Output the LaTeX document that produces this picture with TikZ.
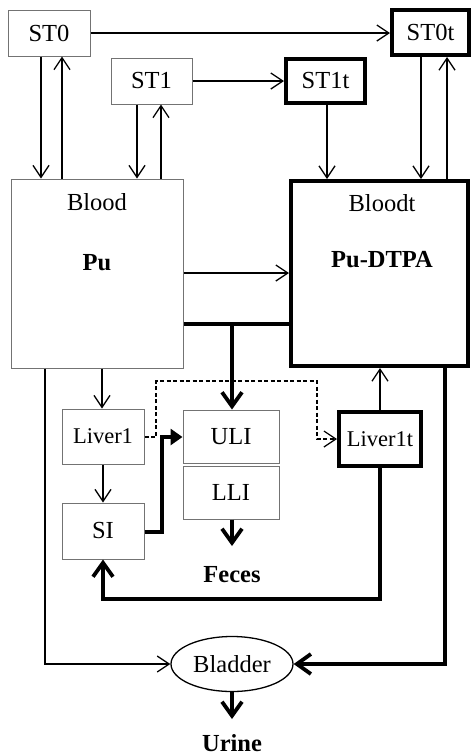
\documentclass[tikz,border=0pt]{standalone}
\usepackage{fontspec}
\setmainfont{Liberation Serif}
\usetikzlibrary{arrows.meta,shapes.geometric}
\begin{document}
\begin{tikzpicture}[x=1pt,y=-1pt,
  lbl/.style={font=\fontsize{24.5}{28}\selectfont},
  slbl/.style={font=\fontsize{22.5}{26}\selectfont},
  blbl/.style={font=\fontsize{24.5}{28}\selectfont\bfseries},
  box/.style={draw=black!55, line width=1pt, inner sep=0pt, lbl},
  tbox/.style={draw=black, line width=4pt, inner sep=0pt, lbl},
  thinarr/.style={line width=1.3pt, -{Straight Barb[length=12pt,width=16pt,line width=1.3pt]}},
  thkline/.style={line width=3.8pt, line join=miter},
  thkarr/.style={line width=3.8pt, line join=miter, -{Straight Barb[length=14pt,width=20pt,line width=3.8pt]}},
  solarr/.style={line width=3.8pt, line join=miter, -{Triangle[length=12pt,width=16pt]}},
  dasharr/.style={line width=1.2pt, dash pattern=on 4pt off 2.5pt, -{Straight Barb[length=12pt,width=16pt,line width=1.2pt]}}
]
\useasboundingbox (0,0) rectangle (472,756);

% boxes
\node[box,  minimum width=82pt, minimum height=46pt] (ST0)  at (49,33) {ST0};
\node[box,  minimum width=81pt, minimum height=46pt] (ST1)  at (151.5,81) {ST1};
\node[tbox, minimum width=79pt, minimum height=44pt] (ST1t) at (325.5,81) {ST1t};
\node[tbox, minimum width=77pt, minimum height=45pt] (ST0t) at (430.5,32.5) {ST0t};
\node[box,  minimum width=172pt, minimum height=189pt] (Blood)  at (97,273.5) {};
\node[tbox, minimum width=177pt, minimum height=185pt] (Bloodt) at (379.5,273.5) {};
\node[lbl]  (bloodlbl)  at (97,202) {Blood};
\node[blbl] (pulbl)     at (97,263) {Pu};
\node[lbl]  (bloodtlbl) at (382,203) {Bloodt};
\node[blbl] (pudtpalbl) at (382,260) {Pu-DTPA};
\node[box,  minimum width=82pt, minimum height=55pt, slbl] (Liver1) at (103,436.5) {Liver1};
\node[box,  minimum width=82pt, minimum height=56pt] (SI) at (103,531) {SI};
\node[box,  minimum width=96pt, minimum height=53pt] (ULI) at (231,436.5) {ULI};
\node[box,  minimum width=96pt, minimum height=53pt] (LLI) at (231,492.5) {LLI};
\node[tbox, minimum width=82pt, minimum height=54pt, slbl] (Liver1t) at (380,439) {Liver1t};
\node[draw, ellipse, line width=1.3pt, minimum width=122pt, minimum height=55pt, inner sep=0pt, lbl] (Bladder) at (232,664) {Bladder};
\node[blbl] (Feces) at (232,575) {Feces};
\node[blbl] (Urine) at (232,743) {Urine};

% top arrows
\draw[thinarr] (ST0.east) -- (ST0t.west |- ST0.east);
\draw[thinarr] (ST1.east) -- (ST1t.west |- ST1.east);
\draw[thinarr] (ST0.south -| 41,0) -- (Blood.north -| 41,0);
\draw[thinarr] (Blood.north -| 62,0) -- (ST0.south -| 62,0);
\draw[thinarr] (ST1.south -| 137,0) -- (Blood.north -| 137,0);
\draw[thinarr] (Blood.north -| 161,0) -- (ST1.south -| 161,0);
\draw[thinarr] (ST1t.south -| 327,0) -- (Bloodt.north -| 327,0);
\draw[thinarr] (ST0t.south -| 421,0) -- (Bloodt.north -| 421,0);
\draw[thinarr] (Bloodt.north -| 447,0) -- (ST0t.south -| 447,0);

% blood to bloodt
\draw[thinarr] (Blood.east |- 0,273) -- (Bloodt.west |- 0,273);
\draw[thkline] (Blood.east |- 0,324) -- (Bloodt.west |- 0,324);
\coordinate (br) at (232,324);
\draw[thkarr] (br) -- (ULI.north -| br);

% blood down
\draw[thinarr] (Blood.south -| 102,0) -- (Liver1.north -| 102,0);
\draw[thinarr] (Blood.south -| 45,0) -- (45,664) -- (Bladder.west);
\draw[thinarr] (Liver1.south) -- (SI.north);

% SI to ULI
\draw[solarr] (SI.east |- 0,532) -- (162,532) -- (162,437) -- (ULI.west |- 0,437);

% dashed liver1 -> liver1t
\draw[dasharr] (Liver1.east |- 0,437) -- (156,437) -- (156,381) -- (317,381) -- (317,439) -- (Liver1t.west);

% liver1t
\draw[thinarr] (Liver1t.north) -- (Bloodt.south -| Liver1t.north);
\draw[thkarr] (Liver1t.south) -- (380,599) -- (103,599) -- (SI.south);

% bloodt to bladder
\draw[thkarr] (Bloodt.south -| 445,0) -- (445,664) -- (Bladder.east);

% outputs
\draw[thkarr] (LLI.south -| 232,0) -- (232,546);
\draw[thkarr] (Bladder.south) -- (232,719);
\end{tikzpicture}
\end{document}
